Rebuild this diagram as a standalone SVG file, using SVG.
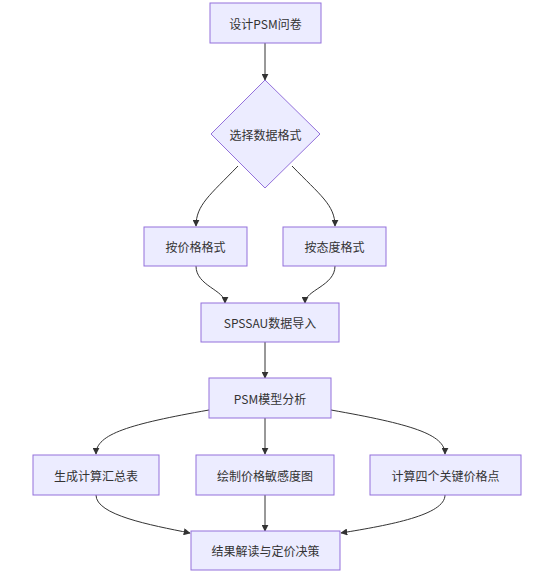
<svg xmlns="http://www.w3.org/2000/svg" width="541" height="573" viewBox="0 0 541 573">
<style>
.n{fill:#ECECFF;stroke:#9370DB;stroke-width:1}
.t{font-family:"Noto Sans CJK SC","Liberation Sans",sans-serif;font-size:12px;fill:#333;text-anchor:middle;dominant-baseline:central}
.e{fill:none;stroke:#333;stroke-width:1;marker-end:url(#ah)}
</style>
<defs>
<marker id="ah" viewBox="0 0 10 10" refX="9" refY="5" markerUnits="userSpaceOnUse" markerWidth="7" markerHeight="7" orient="auto">
<path d="M0,0 L10,5 L0,10 z" fill="#333"/>
</marker>
</defs>
<rect width="541" height="573" fill="#fff"/>
<g id="edges">
<path class="e" d="M265,43 L265,80"/>
<path class="e" d="M238,166 C210,195 196,205 196,226"/>
<path class="e" d="M292,166 C320,195 335,205 335,226"/>
<path class="e" d="M196,266 C196,286 225,290 225,303"/>
<path class="e" d="M335,266 C335,286 305,290 305,303"/>
<path class="e" d="M265,342 L265,378"/>
<path class="e" d="M209,410 C130,424 96,434 96,454"/>
<path class="e" d="M265,418 L265,454"/>
<path class="e" d="M331,410 C410,424 445,434 445,454"/>
<path class="e" d="M96,495 C96,515 150,525 190,533"/>
<path class="e" d="M265,495 L265,531"/>
<path class="e" d="M445,495 C445,515 390,525 341,533"/>
</g>
<g id="n1"><rect class="n" x="210" y="3" width="111" height="40"/><text class="t" x="265.5" y="23">设计PSM问卷</text></g>
<g id="n2"><polygon class="n" points="265,80 320,134 265,188 211,134"/><text class="t" x="265.5" y="134">选择数据格式</text></g>
<g id="n3"><rect class="n" x="144" y="227" width="103" height="39"/><text class="t" x="195.5" y="246.5">按价格格式</text></g>
<g id="n4"><rect class="n" x="283" y="227" width="103" height="39"/><text class="t" x="334.5" y="246.5">按态度格式</text></g>
<g id="n5"><rect class="n" x="201" y="303" width="138" height="39"/><text class="t" x="270" y="322.5">SPSSAU数据导入</text></g>
<g id="n6"><rect class="n" x="209" y="378" width="122" height="40"/><text class="t" x="270" y="398">PSM模型分析</text></g>
<g id="n7"><rect class="n" x="33" y="455" width="126" height="40"/><text class="t" x="96" y="475">生成计算汇总表</text></g>
<g id="n8"><rect class="n" x="196" y="455" width="138" height="40"/><text class="t" x="265" y="475">绘制价格敏感度图</text></g>
<g id="n9"><rect class="n" x="370" y="455" width="151" height="40"/><text class="t" x="445.5" y="475">计算四个关键价格点</text></g>
<g id="n10"><rect class="n" x="191" y="531" width="149" height="39"/><text class="t" x="265.5" y="550.5">结果解读与定价决策</text></g>
</svg>
